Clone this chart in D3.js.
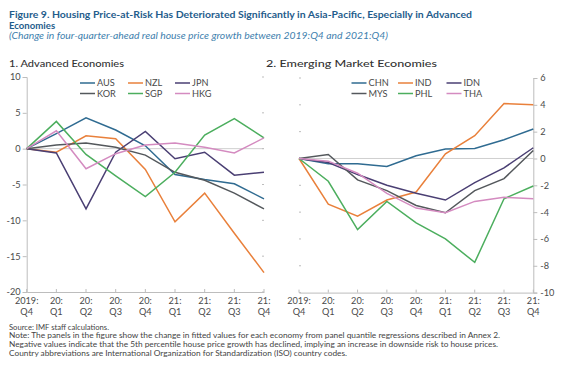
<!DOCTYPE html>
<html><head><meta charset="utf-8">
<script src="https://cdn.jsdelivr.net/npm/d3@7"></script>
<style>
html,body{margin:0;padding:0;background:#fff;}
svg{display:block;font-family:Lato,"Open Sans",sans-serif;}
</style></head><body>
<svg id="c" width="567" height="378"></svg>
<script>
const quarters = ["2019:Q4","20:Q1","20:Q2","20:Q3","20:Q4","21:Q1","21:Q2","21:Q3","21:Q4"];
const leftTicks = [10,5,0,-5,-10,-15,-20];
const rightTicks = [6,4,2,0,-2,-4,-6,-8,-10];

const AUS = [0, 2.1, 4.3, 2.6, 0.4, -3.6, -4.3, -4.9, -7.0];
const NZL = [0, -0.5, 1.8, 1.4, -2.9, -10.2, -6.2, -11.8, -17.3];
const JPN = [0, -0.6, -8.4, -0.5, 2.4, -1.4, -0.5, -3.7, -3.3];
const KOR = [0, 0.5, 0.8, 0.2, -0.9, -3.3, -4.4, -6.2, -8.4];
const SGP = [0, 3.8, -0.8, -3.8, -6.7, -3.3, 1.9, 4.2, 1.5];
const HKG = [0, 2.5, -2.8, -0.7, 0.5, 0.8, 0.2, -0.6, 1.5];

const CHN = [0, -0.4, -0.4, -0.6, 0.2, 0.7, 0.75, 1.4, 2.2];
const IND = [0, -3.4, -4.3, -3.1, -2.5, 0.35, 1.7, 4.1, 4.0];
const IDN = [0, -0.3, -1.2, -2.0, -2.6, -3.1, -1.8, -0.7, 0.8];
const MYS = [0, 0.3, -1.6, -2.4, -3.5, -4.05, -2.4, -1.5, 0.6];
const PHL = [0, -1.7, -5.3, -3.2, -4.8, -6.0, -7.75, -3.0, -2.05];
const THA = [0, -0.2, -1.1, -2.6, -3.7, -4.05, -3.2, -2.9, -3.0];

const C = {blue:"#2f6b91", orange:"#e9803b", purple:"#4a3f73", gray:"#54585c", green:"#4cae5e", pink:"#d48bc0"};

const leftSeries = [
  {name:"AUS", values:AUS, color:C.blue},
  {name:"NZL", values:NZL, color:C.orange},
  {name:"JPN", values:JPN, color:C.purple},
  {name:"KOR", values:KOR, color:C.gray},
  {name:"SGP", values:SGP, color:C.green},
  {name:"HKG", values:HKG, color:C.pink}
];
const rightSeries = [
  {name:"CHN", values:CHN, color:C.blue},
  {name:"IND", values:IND, color:C.orange},
  {name:"IDN", values:IDN, color:C.purple},
  {name:"MYS", values:MYS, color:C.gray},
  {name:"PHL", values:PHL, color:C.green},
  {name:"THA", values:THA, color:C.pink}
];

const svg = d3.select("#c");
const axisCol = "#bdbdbd", txtCol = "#4a4a4a";

// Titles
svg.append("text").attr("x",9).attr("y",18).attr("fill","#1f5d8c").attr("font-weight","bold").attr("font-size",9.6)
  .attr("textLength",463).attr("lengthAdjust","spacingAndGlyphs")
  .text("Figure 9. Housing Price-at-Risk Has Deteriorated Significantly in Asia-Pacific, Especially in Advanced");
svg.append("text").attr("x",9).attr("y",29).attr("fill","#1f5d8c").attr("font-weight","bold").attr("font-size",9.6)
  .text("Economies");
svg.append("text").attr("x",9).attr("y",39).attr("fill","#3f7fae").attr("font-style","italic").attr("font-size",9.4)
  .attr("textLength",379).attr("lengthAdjust","spacingAndGlyphs")
  .text("(Change in four-quarter-ahead real house price growth between 2019:Q4 and 2021:Q4)");

svg.append("text").attr("x",9).attr("y",67).attr("fill","#333").attr("font-size",10).attr("font-weight",500)
  .attr("textLength",115).attr("lengthAdjust","spacingAndGlyphs").text("1. Advanced Economies");
svg.append("text").attr("x",266).attr("y",67).attr("fill","#333").attr("font-size",10).attr("font-weight",500)
  .attr("textLength",171).attr("lengthAdjust","spacingAndGlyphs").text("2. Emerging Market Economies");

function panel(opts){
  const x = d3.scalePoint().domain(quarters).range(opts.xr);
  const y = d3.scaleLinear().domain(opts.yd).range(opts.yr);
  const g = svg.append("g");
  const x0 = opts.xr[0], x1 = opts.xr[1];
  // zero line
  g.append("line").attr("x1",x0).attr("x2",x1).attr("y1",y(0)).attr("y2",y(0)).attr("stroke","#cfcfcf").attr("stroke-width",1);
  // bottom axis
  const xb = d3.axisBottom(x).tickSize(0).tickFormat("");
  const gb = g.append("g").attr("transform",`translate(0,${y(opts.yd[0])})`).call(xb);
  gb.select(".domain").attr("stroke",axisCol);
  g.selectAll(".xt").data(quarters).enter().append("line").attr("class","xt")
    .attr("x1",d=>x(d)).attr("x2",d=>x(d)).attr("y1",y(opts.yd[0])).attr("y2",y(opts.yd[0])-3).attr("stroke",axisCol);
  const lab = g.selectAll(".xl").data(quarters).enter().append("text").attr("class","xl")
    .attr("x",d=>x(d)).attr("text-anchor","middle").attr("fill",txtCol).attr("font-size",9.2);
  lab.append("tspan").attr("x",d=>x(d)).attr("y",304).text(d=>d.split(":")[0]+":");
  lab.append("tspan").attr("x",d=>x(d)).attr("y",314.5).text(d=>d.split(":")[1]);
  // main y axis
  if(opts.side==="left"){
    const ax = d3.axisLeft(y).tickValues(opts.ticks).tickSize(4).tickPadding(2).tickFormat(d3.format("d"));
    const ga = g.append("g").attr("transform",`translate(${x0},0)`).call(ax);
    ga.select(".domain").attr("stroke",axisCol);
    ga.selectAll(".tick line").attr("stroke",axisCol);
    ga.selectAll(".tick text").attr("fill",txtCol).attr("font-size",9.2).attr("font-family","Lato,sans-serif").text(d=>d<0?"-"+Math.abs(d):d);
    g.selectAll(".rt").data(opts.ticks).enter().append("line").attr("x1",x1).attr("x2",x1-2).attr("y1",d=>y(d)).attr("y2",d=>y(d)).attr("stroke",axisCol);
  } else {
    const ax = d3.axisRight(y).tickValues(opts.ticks).tickSize(4).tickPadding(3).tickFormat(d3.format("d"));
    const ga = g.append("g").attr("transform",`translate(${x1},0)`).call(ax);
    ga.select(".domain").attr("stroke",axisCol);
    ga.selectAll(".tick line").attr("stroke",axisCol);
    ga.selectAll(".tick text").attr("fill",txtCol).attr("font-size",9.2).attr("font-family","Lato,sans-serif").text(d=>d<0?"-"+Math.abs(d):d);
    g.selectAll(".lt").data(opts.ticks).enter().append("line").attr("x1",x0).attr("x2",x0+2).attr("y1",d=>y(d)).attr("y2",d=>y(d)).attr("stroke",axisCol);
  }
  // lines
  const line = d3.line().x((d,i)=>x(quarters[i])).y(d=>y(d));
  opts.series.forEach(s=>{
    g.append("path").datum(s.values).attr("d",line).attr("fill","none").attr("stroke",s.color).attr("stroke-width",1.5).attr("stroke-linejoin","miter");
  });
  // legend
  opts.series.forEach((s,i)=>{
    const col = i%3, row = Math.floor(i/3);
    const lx = opts.legX[col], ly = 83 + row*10.5;
    g.append("line").attr("x1",lx).attr("x2",lx+15).attr("y1",ly).attr("y2",ly).attr("stroke",s.color).attr("stroke-width",1.5);
    g.append("text").attr("x",lx+17).attr("y",ly+3.3).attr("fill",txtCol).attr("font-size",9.2).text(s.name);
  });
}

panel({xr:[26.7,264], yd:[-20,10], yr:[292,77], ticks:leftTicks, side:"left", series:leftSeries, legX:[80,128,175]});
panel({xr:[299,533.3], yd:[-10,6], yr:[292.6,78], ticks:rightTicks, side:"right", series:rightSeries, legX:[351.5,398,446.5]});

// Notes
const notes = [
  "Source: IMF staff calculations.",
  "Note: The panels in the figure show the change in fitted values for each economy from panel quantile regressions described in Annex 2.",
  "Negative values indicate that the 5th percentile house price growth has declined, implying an increase in downside risk to house prices.",
  "Country abbreviations are International Organization for Standardization (ISO) country codes."
];
const noteW = [100, 491, 489, 338];
notes.forEach((t,i)=>{
  svg.append("text").attr("x",9).attr("y",329.5+i*8.9).attr("fill","#444").attr("font-size",7.4)
    .attr("textLength",noteW[i]).attr("lengthAdjust","spacingAndGlyphs").text(t);
});
</script>
</body></html>
